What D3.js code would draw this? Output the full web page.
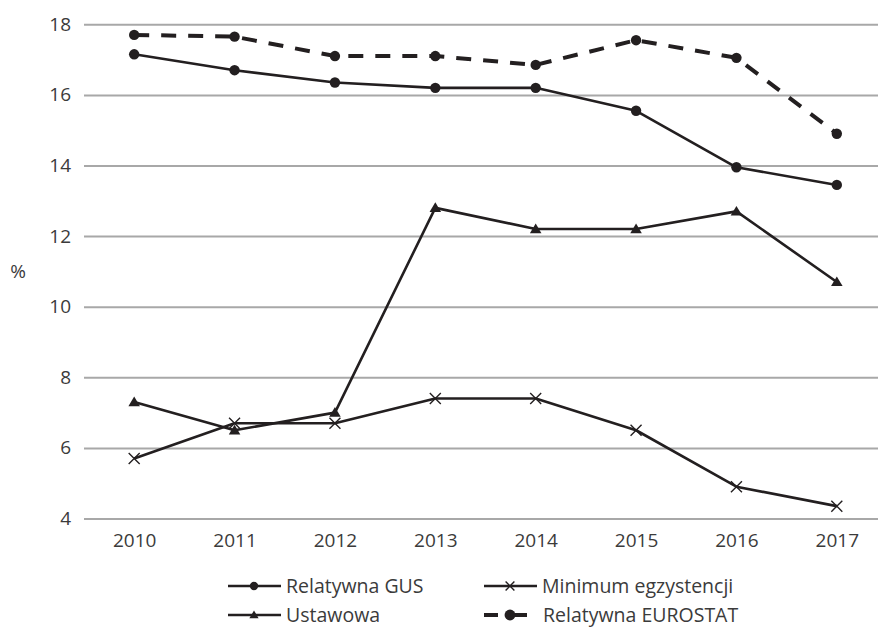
<!DOCTYPE html>
<html>
<head>
<meta charset="utf-8">
<script src="https://cdn.jsdelivr.net/npm/d3@7"></script>
<style>
  html, body { margin: 0; padding: 0; background: #fff; }
  svg { display: block; font-family: "Open Sans", "Noto Sans", sans-serif; }
</style>
</head>
<body>
<svg id="chart" width="878" height="627"></svg>
<script>
// Poverty rates in Poland, 2010–2017 (%)
const years = ["2010", "2011", "2012", "2013", "2014", "2015", "2016", "2017"];
const relatywnaGUS = [17.15, 16.7, 16.35, 16.2, 16.2, 15.55, 13.95, 13.45];
const minimumEgzystencji = [5.7, 6.7, 6.7, 7.4, 7.4, 6.5, 4.9, 4.35];
const ustawowa = [7.3, 6.5, 7.0, 12.8, 12.2, 12.2, 12.7, 10.7];
const relatywnaEUROSTAT = [17.7, 17.65, 17.1, 17.1, 16.85, 17.55, 17.05, 14.9];
const yTicks = [4, 6, 8, 10, 12, 14, 16, 18];
const yLabel = "%";

const series = [
  { name: "Relatywna GUS", values: relatywnaGUS, marker: "circle", dashed: false },
  { name: "Minimum egzystencji", values: minimumEgzystencji, marker: "cross", dashed: false },
  { name: "Ustawowa", values: ustawowa, marker: "triangle", dashed: false },
  { name: "Relatywna EUROSTAT", values: relatywnaEUROSTAT, marker: "circle", dashed: true }
];

const ink = "#231f20";
const textColor = "#3b3b3b";
const gridColor = "#a8a8a8";
const fontSize = "19px";
const legendFontSize = "19.5px";

const svg = d3.select("#chart");

const x = d3.scalePoint().domain(years).range([84, 887]).padding(0.5);
const y = d3.scaleLinear().domain([4, 18]).range([518.5, 24.3]);

// horizontal gridlines
const yAxis = d3.axisLeft(y).tickValues(yTicks).tickSize(-(887 - 84)).tickPadding(13).tickFormat(d3.format("d"));
const gy = svg.append("g").attr("transform", "translate(84,0)").call(yAxis);
gy.select(".domain").remove();
gy.selectAll(".tick line").attr("stroke", gridColor).attr("stroke-width", 2);
gy.selectAll(".tick text").attr("fill", textColor).style("font-size", fontSize)
  .style("font-family", "'Open Sans', sans-serif");

// category labels
const xAxis = d3.axisBottom(x).tickSize(0).tickPadding(0);
const gx = svg.append("g").attr("transform", "translate(0,533)").call(xAxis);
gx.select(".domain").remove();
gx.selectAll(".tick text").attr("fill", textColor).style("font-size", fontSize)
  .style("font-family", "'Open Sans', sans-serif").attr("dy", "0.71em");

// axis title
svg.append("text").attr("x", 18).attr("y", 278).attr("text-anchor", "middle")
  .attr("fill", textColor).style("font-size", fontSize).text(yLabel);

const line = d3.line().x((d, i) => x(years[i])).y(d => y(d));

function drawMarker(g, type, cx, cy, scale = 1) {
  if (type === "circle") {
    g.append("circle").attr("cx", cx).attr("cy", cy).attr("r", 5.2 * scale).attr("fill", ink);
  } else if (type === "triangle") {
    const s = 5.5 * scale;
    g.append("path")
      .attr("d", `M${cx},${cy - s}L${cx + s * 1.05},${cy + s * 0.75}L${cx - s * 1.05},${cy + s * 0.75}Z`)
      .attr("fill", ink);
  } else if (type === "cross") {
    const s = 5.5 * scale;
    g.append("path")
      .attr("d", `M${cx - s},${cy - s}L${cx + s},${cy + s}M${cx - s},${cy + s}L${cx + s},${cy - s}`)
      .attr("stroke", ink).attr("stroke-width", 1.4).attr("fill", "none");
  }
}

// draw series in back-to-front order
const drawOrder = [2, 1, 0, 3];
drawOrder.forEach(k => {
  const s = series[k];
  const g = svg.append("g");
  g.append("path").datum(s.values).attr("d", line)
    .attr("fill", "none").attr("stroke", ink)
    .attr("stroke-width", s.dashed ? 4 : 2.6)
    .attr("stroke-dasharray", s.dashed ? "15,12" : null)
    .attr("stroke-linejoin", "round");
  s.values.forEach((v, i) => drawMarker(g, s.marker, x(years[i]), y(v)));
});

// legend
const legendPos = [
  { x: 228, y: 586 }, { x: 484, y: 586 },
  { x: 228, y: 615 }, { x: 484, y: 615 }
];
series.forEach((s, k) => {
  const p = legendPos[k];
  const g = svg.append("g");
  let textX = p.x + 58;
  if (s.dashed) {
    g.append("line").attr("x1", p.x).attr("x2", p.x + 14).attr("y1", p.y).attr("y2", p.y)
      .attr("stroke", ink).attr("stroke-width", 4);
    g.append("line").attr("x1", p.x + 27).attr("x2", p.x + 43).attr("y1", p.y).attr("y2", p.y)
      .attr("stroke", ink).attr("stroke-width", 4);
    drawMarker(g, s.marker, p.x + 26, p.y, 1.05);
    textX = p.x + 59;
  } else {
    g.append("line").attr("x1", p.x).attr("x2", p.x + 53).attr("y1", p.y).attr("y2", p.y)
      .attr("stroke", ink).attr("stroke-width", 2.6);
    drawMarker(g, s.marker, p.x + 26, p.y, 0.8);
  }
  g.append("text").attr("x", textX).attr("y", p.y).attr("dy", "0.34em")
    .attr("fill", textColor).style("font-size", legendFontSize).text(s.name);
});
</script>
</body>
</html>
